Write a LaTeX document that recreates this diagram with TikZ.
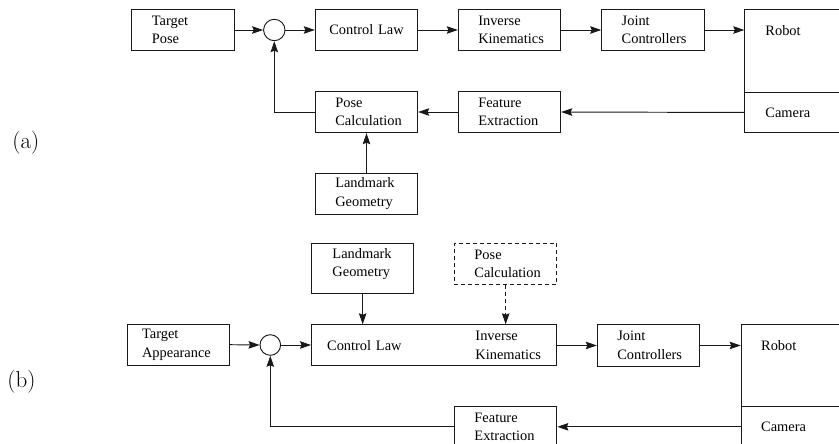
\documentclass[tikz,border=0pt]{standalone}
\usepackage{fontspec}
\newfontfamily\tnr{Liberation Serif}
\usetikzlibrary{arrows.meta}
\tikzset{
  ln/.style={draw=black!90, line width=0.95pt},
  box/.style={ln, rectangle, minimum height=41.4pt, minimum width=102.4pt,
    inner ysep=0pt, inner xsep=20pt, text width=62.4pt, align=left,
    font={\tnr\fontsize{14.4pt}{18.5pt}\selectfont\hyphenpenalty=10000\relax}},
  txt/.style={box, draw=none},
  frame/.style={ln, rectangle, inner sep=0pt, anchor=north west},
  sumc/.style={ln, circle, inner sep=0pt, minimum size=#1},
  arr/.style={draw=black!90, line width=0.95pt, -{Stealth[length=11pt,width=7.5pt,inset=1.5pt]}},
  darr/.style={arr, dash pattern=on 4pt off 3pt},
  lab/.style={font=\fontsize{23pt}{23pt}\selectfont, inner sep=0pt, anchor=west},
}
\begin{document}
\begin{tikzpicture}[x=1pt,y=-1pt]
\useasboundingbox (0,0) rectangle (839,444);
\clip (0,0) rectangle (839,444);

% ---------------- (a) ----------------
\node[lab] (la) at (12.3,143) {(a)};
\node[box] (tp) at (183.1,30) {Target\\Pose};
\node[sumc=21.4pt] (sa) at (274.3,30) {};
\node[box, inner xsep=0pt, text width=102.4pt, align=center] (cl) at (366.5,30) {Control Law};
\node[box] (ik) at (509.5,30) {Inverse\\Kinematics};
\node[box] (jc) at (652.9,30) {Joint\\Controllers};
\node[frame, minimum width=130pt, minimum height=82.4pt] (ra) at (744.3,9.3) {};
\node[txt, anchor=north west, inner xsep=20.7pt] (rat) at (744.3,9.3) {Robot};
\node[box, anchor=north west, text width=89pt, inner xsep=20.7pt, minimum height=40.6pt] (ca) at (744.3,91.7) {Camera};
\node[box] (fe) at (509.5,112) {Feature\\Extraction};
\node[box] (pc) at (366.5,112) {Pose\\Calculation};
\node[box] (lg) at (366.5,193.8) {Landmark\\Geometry};

\draw[arr] (tp.east) -- (sa.west);
\draw[arr] (sa.east) -- (cl.west);
\draw[arr] (cl.east) -- (ik.west);
\draw[arr] (ik.east) -- (jc.west);
\draw[arr] (jc.east) -- (jc.east -| ra.west);
\draw[arr] (ca.west) -- (fe.east);
\draw[arr] (fe.west) -- (pc.east);
\draw[arr] (lg.north) -- (pc.south);
\draw[arr] (pc.west) -| (sa.south);

% ---------------- (b) ----------------
\node[lab] (lb) at (7.3,382) {(b)};
\node[box, inner xsep=15pt, text width=72.4pt] (ta) at (178.3,344.7) {Target\\Appearance};
\node[sumc=20.6pt] (sb) at (270.3,345) {};
\node[frame, minimum width=102.4pt, minimum height=50pt] (lgb) at (311,242.7) {};
\node[txt, anchor=north west, inner xsep=21pt] (lgbt) at (311,242.7) {Landmark\\Geometry};
\node[box, dash pattern=on 4pt off 3pt, anchor=north west] (pcb) at (454,242.7) {Pose\\Calculation};
\node[frame, minimum width=245pt, minimum height=40.7pt] (ck) at (311,324.3) {};
\node[txt, anchor=north west, inner xsep=15.7pt, text width=110pt] (ckt) at (311,324.3) {Control Law};
\node[txt, anchor=north west, inner xsep=21pt] (ikt) at (454,324.3) {Inverse\\Kinematics};
\node[box, anchor=north west] (jcb) at (596.8,324.3) {Joint\\Controllers};
\node[frame, minimum width=130pt, minimum height=81.7pt] (rb) at (740.7,324.3) {};
\node[txt, anchor=north west] (rbt) at (740.7,324.3) {Robot};
\node[box, anchor=north west, text width=89pt, minimum height=40.7pt] (cb) at (740.7,406) {Camera};
\node[box, anchor=north west, minimum height=40.7pt] (feb) at (454,406) {Feature\\Extraction};

\draw[arr] (ta.east) -- (sb.west);
\draw[arr] (sb.east) -- (sb.east -| ck.west);
\draw[arr] (lgb.south) -- (lgb.south |- ck.north);
\draw[darr] (pcb.south) -- (pcb.south |- ck.north);
\draw[arr] (ck.east |- jcb.west) -- (jcb.west);
\draw[arr] (jcb.east) -- (jcb.east -| rb.west);
\draw[arr] (cb.west) -- (feb.east);
\draw[arr] (feb.west) -| (sb.south);
\end{tikzpicture}
\end{document}
